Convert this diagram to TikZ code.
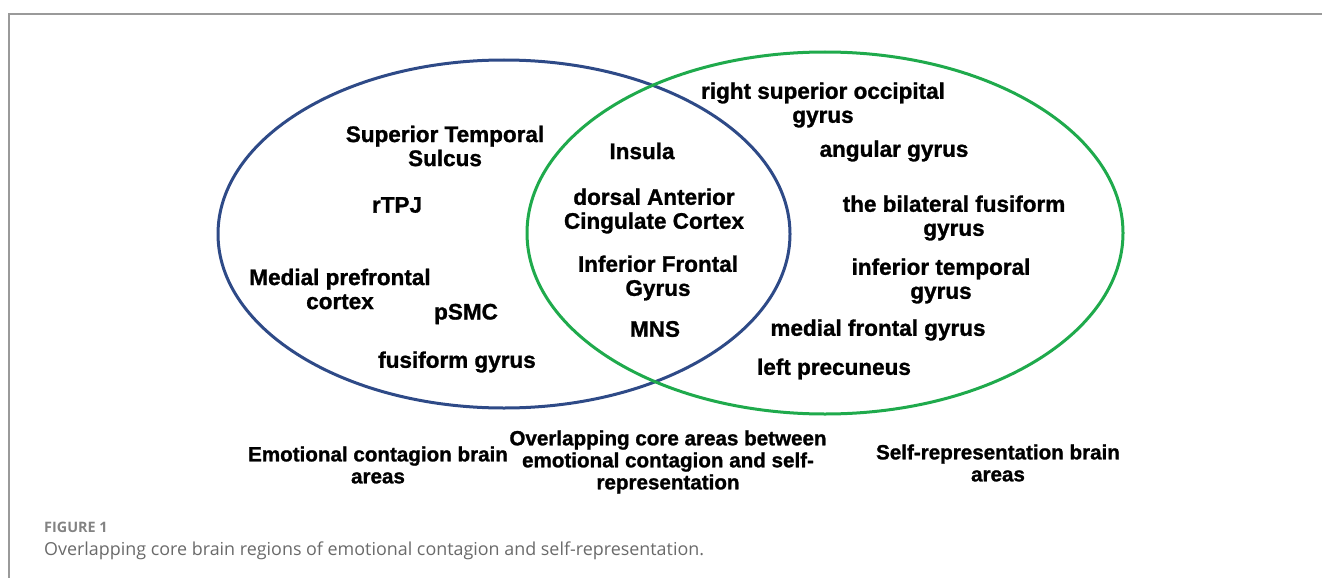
\documentclass[tikz,border=0pt]{standalone}
\usepackage{fontspec}
\setmainfont{Liberation Sans}[BoldFeatures={FakeBold=1.2}]
\newfontfamily\capfont{Open Sans}
\usepackage{tikz}
\usepackage{xcolor}
\definecolor{ecblue}{HTML}{2E4A87}
\definecolor{srgreen}{HTML}{1FAA4C}
\definecolor{framegray}{HTML}{9A9A9A}
\definecolor{capgray}{HTML}{6A6A6A}

\tikzset{
	area/.style={align=center, inner sep=0pt, font=\fontsize{22.5}{24}\selectfont\bfseries},
	legend/.style={align=center, inner sep=0pt, font=\fontsize{20.6}{22}\selectfont\bfseries},
	caption/.style={anchor=west, inner sep=0pt, text=capgray}
}

\begin{document}
\begin{tikzpicture}[x=1pt, y=-1pt]
	\useasboundingbox (0,0) rectangle (1322,578);
	% rahmen
	\draw[framegray, line width=1.5pt] (9,578) -- (9,14) -- (1322,14);
	% linke ellipse, emotional contagion
	\draw[ecblue, line width=3pt] (504,234) ellipse [x radius=286, y radius=174];
	% rechte ellipse, self-representation
	\draw[srgreen, line width=3pt] (825,233) ellipse [x radius=298, y radius=181];
	% linker bereich
	\node[area] (sts) at (445,146) {Superior Temporal\\Sulcus};
	\node[area] (rtpj) at (397,205) {rTPJ};
	\node[area] (mpfc) at (340,289) {Medial prefrontal\\cortex};
	\node[area] (psmc) at (466,314) {pSMC};
	\node[area] (fg) at (457,362) {fusiform gyrus};
	% mittlerer bereich
	\node[area] (insula) at (642,151) {Insula};
	\node[area] (dacc) at (654,211) {dorsal Anterior\\Cingulate Cortex};
	\node[area] (ifg) at (658,278) {Inferior Frontal\\Gyrus};
	\node[area] (mns) at (655,329) {MNS};
	% rechter bereich
	\node[area] (rsog) at (823,105) {right superior occipital\\gyrus};
	\node[area] (ag) at (894,151) {angular gyrus};
	\node[area] (bfg) at (954,218) {the bilateral fusiform\\gyrus};
	\node[area] (itg) at (941,281) {inferior temporal\\gyrus};
	\node[area] (mfg) at (878,330) {medial frontal gyrus};
	\node[area] (lp) at (834,369) {left precuneus};
	% beschriftung unten
	\node[legend] (ec) at (378,465) {Emotional contagion brain\\areas};
	\node[legend] (overlap) at (668,462) {Overlapping core areas between\\emotional contagion and self-\\representation};
	\node[legend] (sr) at (998,463) {Self-representation brain\\areas};
	% bildunterschrift
	\node[caption, font=\capfont\bfseries\fontsize{14.4}{16}\selectfont, text=framegray!85!black] (fig) at (44,527) {FIGURE 1};
	\node[caption, font=\capfont\fontsize{17.9}{20}\selectfont] (cap) at (44,551) {Overlapping core brain regions of emotional contagion and self-representation.};
\end{tikzpicture}
\end{document}
